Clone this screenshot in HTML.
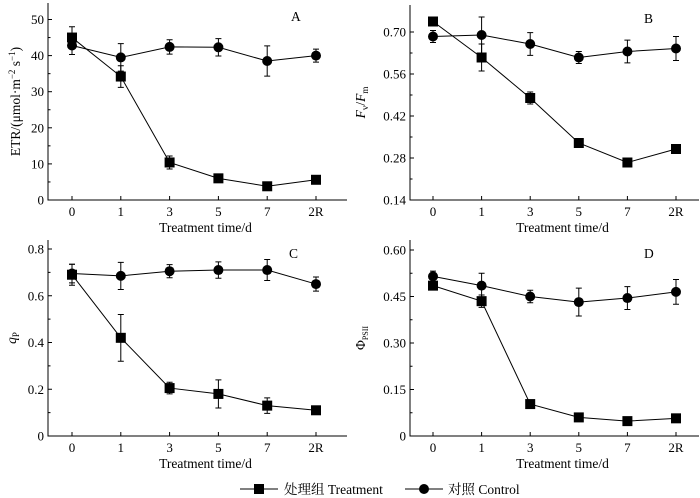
<!DOCTYPE html>
<html><head><meta charset="utf-8"><style>
html,body{margin:0;padding:0;background:#fff}
svg{display:block;font-family:"Liberation Serif","Noto Serif CJK SC",serif}
</style></head><body>
<svg id="fig" width="700" height="498" viewBox="0 0 700 498"></svg>
<script>
const categories=["0","1","3","5","7","2R"];
const etrTreat=[45,34.2,10.4,6,3.8,5.6];
const etrTreatErr=[3,3,1.8,0,0,0];
const etrCtrl=[42.8,39.5,42.4,42.3,38.5,40];
const etrCtrlErr=[2.5,3.8,2,2.4,4.2,1.8];
const fvTreat=[0.735,0.615,0.48,0.33,0.265,0.31];
const fvTreatErr=[0,0.045,0.02,0,0,0];
const fvCtrl=[0.685,0.69,0.66,0.615,0.635,0.645];
const fvCtrlErr=[0.02,0.06,0.038,0.02,0.038,0.04];
const qpTreat=[0.69,0.42,0.205,0.18,0.13,0.11];
const qpTreatErr=[0.045,0.1,0.025,0.06,0.033,0];
const qpCtrl=[0.695,0.685,0.705,0.71,0.71,0.65];
const qpCtrlErr=[0.04,0.058,0.028,0.035,0.045,0.03];
const phiTreat=[0.485,0.435,0.103,0.06,0.048,0.057];
const phiTreatErr=[0.01,0.02,0,0,0,0];
const phiCtrl=[0.515,0.485,0.45,0.432,0.445,0.465];
const phiCtrlErr=[0.017,0.04,0.02,0.045,0.037,0.04];
const ticksA=[0,10,20,30,40,50];
const ticksB=[0.14,0.28,0.42,0.56,0.70];
const ticksC=[0,0.2,0.4,0.6,0.8];
const ticksD=[0,0.15,0.30,0.45,0.60];

const NS="http://www.w3.org/2000/svg";
const svg=document.getElementById('fig');
function mk(t,a,p){const e=document.createElementNS(NS,t);for(const k in a)e.setAttribute(k,a[k]);(p||svg).appendChild(e);return e;}

function panel(o){
  const g=mk('g',{});
  
  
  const y=v=>o.y0+(v-o.vmin)/(o.vmax-o.vmin)*(o.y1-o.y0);
  const x=i=>o.xs+i*o.dx;
  const ax=mk('path',{d:`M${o.ax} ${o.top}V${o.y0}H${o.right}`,stroke:'#000','stroke-width':1,fill:'none'},g);
  
  
  o.ticks.forEach((t,k)=>{
    mk('line',{x1:o.ax,x2:o.ax+4,y1:y(t),y2:y(t),stroke:'#000'},g);
    if(k<o.ticks.length-1){const m=(t+o.ticks[k+1])/2;mk('line',{x1:o.ax,x2:o.ax+2.5,y1:y(m),y2:y(m),stroke:'#000'},g);}
    const tl=mk('text',{x:o.ax-4,y:y(t)+4.5,'text-anchor':'end','font-size':13},g);
    tl.textContent=o.fmt(t);
    
    
  });
  categories.forEach((c,i)=>{
    mk('line',{x1:x(i),x2:x(i),y1:o.y0,y2:o.y0-4,stroke:'#000'},g);
    const tl=mk('text',{x:x(i),y:o.y0+16,'text-anchor':'middle','font-size':13},g);
    tl.textContent=c;
    
    
  });
  const xt=mk('text',{x:(o.ax+o.right)/2+8,y:o.y0+32,'text-anchor':'middle','font-size':13.5},g);
  xt.textContent='Treatment time/d';
  
  
  const pl=mk('text',{x:o.lx,y:o.top+18,'font-size':13.5},g);
  pl.textContent=o.label;
  
  
  const yt=mk('text',{transform:`translate(${o.ytx},${(o.top+o.y0)/2}) rotate(-90)`,'text-anchor':'middle','font-size':13.5},g);
  yt.innerHTML=o.ytitle;
  
  
  [[o.ctrl,o.ctrlErr,'circle','control'],[o.treat,o.treatErr,'square','treatment']].forEach(([vals,errs,shape,nm])=>{
    const sg=mk('g',{},g);
    
    
    mk('polyline',{points:vals.map((v,i)=>x(i)+','+y(v)).join(' '),fill:'none',stroke:'#000','stroke-width':1},sg);
    vals.forEach((v,i)=>{
      const e=errs[i];
      if(e>0){mk('path',{d:`M${x(i)} ${y(v+e)}V${y(v-e)}M${x(i)-3} ${y(v+e)}H${x(i)+3}M${x(i)-3} ${y(v-e)}H${x(i)+3}`,stroke:'#000',fill:'none'},sg);}
      let m;
      if(shape==='circle')m=mk('circle',{cx:x(i),cy:y(v),r:5,fill:'#000'},sg);
      else m=mk('rect',{x:x(i)-5,y:y(v)-5,width:10,height:10,fill:'#000'},sg);
      
      
    });
  });
}
panel({name:'panel-a-etr',ax:48,right:347,top:3,y0:200,y1:19.5,vmin:0,vmax:50,xs:72,dx:48.8,ticks:ticksA,fmt:t=>String(t),label:'A',lx:291,ytx:20,
  ytitle:'ETR/(μmol·m<tspan font-size="9" dy="-5">−2</tspan><tspan dy="5"> s</tspan><tspan font-size="9" dy="-5">−1</tspan><tspan dy="5">)</tspan>',
  treat:etrTreat,treatErr:etrTreatErr,ctrl:etrCtrl,ctrlErr:etrCtrlErr});
panel({name:'panel-b-fvfm',ax:410,right:699,top:5,y0:200,y1:32,vmin:0.14,vmax:0.70,xs:433,dx:48.6,ticks:ticksB,fmt:t=>t.toFixed(2),label:'B',lx:644,ytx:365,
  ytitle:'<tspan font-style="italic">F</tspan><tspan font-size="9" dy="3">v</tspan><tspan dy="-3">/</tspan><tspan font-style="italic">F</tspan><tspan font-size="9" dy="3">m</tspan>',
  treat:fvTreat,treatErr:fvTreatErr,ctrl:fvCtrl,ctrlErr:fvCtrlErr});
panel({name:'panel-c-qp',ax:48,right:347,top:240,y0:436,y1:249,vmin:0,vmax:0.8,xs:72,dx:48.8,ticks:ticksC,fmt:t=>t===0?'0':t.toFixed(1),label:'C',lx:289,ytx:16,
  ytitle:'<tspan font-style="italic">q</tspan><tspan font-size="9" dy="3">P</tspan>',
  treat:qpTreat,treatErr:qpTreatErr,ctrl:qpCtrl,ctrlErr:qpCtrlErr});
panel({name:'panel-d-phipsii',ax:410,right:699,top:240,y0:436,y1:250,vmin:0,vmax:0.6,xs:433,dx:48.6,ticks:ticksD,fmt:t=>t===0?'0':t.toFixed(2),label:'D',lx:644,ytx:365,
  ytitle:'Φ<tspan font-size="8" dy="3">PSII</tspan>',
  treat:phiTreat,treatErr:phiTreatErr,ctrl:phiCtrl,ctrlErr:phiCtrlErr});
</script>
<svg style="position:absolute;left:0;top:475px" width="700" height="23">
<g>
<line x1="240" x2="278" y1="14" y2="14" stroke="#000"/><rect x="254" y="9" width="10" height="10" fill="#000"/>
<text x="284" y="19" font-size="13.5" font-family="Liberation Serif,Noto Serif CJK SC,serif">处理组 Treatment</text></g>
<g>
<line x1="405" x2="443" y1="14" y2="14" stroke="#000"/><circle cx="424" cy="14" r="5" fill="#000"/>
<text x="448" y="19" font-size="13.5" font-family="Liberation Serif,Noto Serif CJK SC,serif">对照 Control</text></g>
</svg>
</body></html>
